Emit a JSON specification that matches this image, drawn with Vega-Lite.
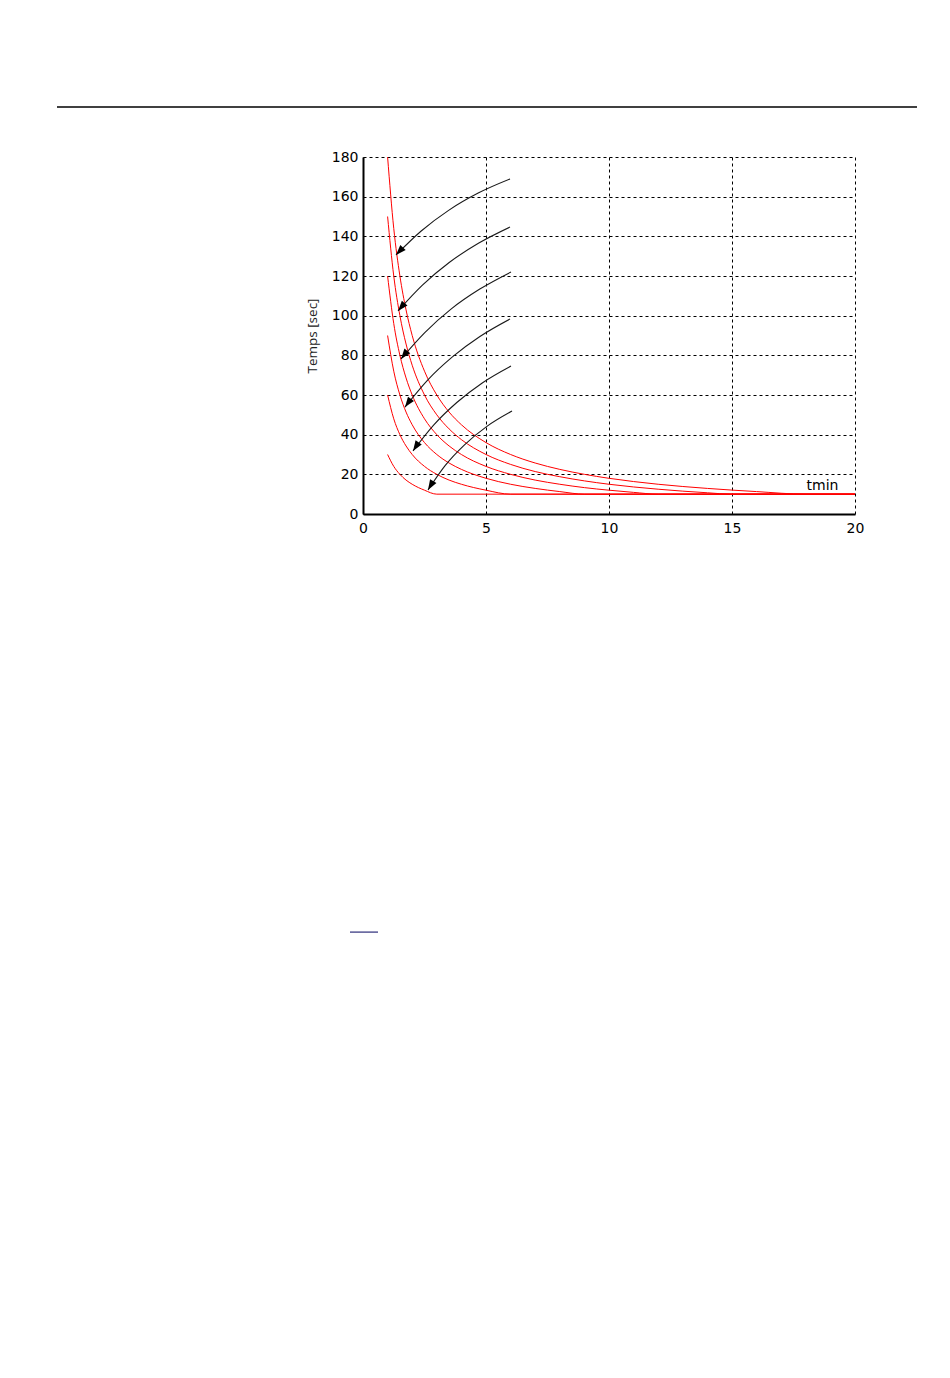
{
  "$schema": "https://vega.github.io/schema/vega-lite/v6.json",
  "autosize": "none",
  "width": 492,
  "height": 357,
  "padding": {"left": 363, "top": 157, "right": 95, "bottom": 864},
  "background": "white",
  "config": {"view": {"stroke": null}},
  "encoding": {
    "x": {
      "field": "x", "type": "quantitative",
      "scale": {"domain": [0, 20], "nice": false, "zero": false},
      "axis": {
        "title": null, "values": [0, 5, 10, 15, 20], "labelFlush": false,
        "grid": true, "gridColor": "#000000", "gridDash": [3, 3], "gridWidth": 1, "gridOpacity": 1,
        "domainColor": "#000000", "domainWidth": 2, "ticks": false,
        "labelFont": "DejaVu Sans", "labelFontSize": 14, "labelColor": "#000000", "labelPadding": 7
      }
    },
    "y": {
      "field": "y", "type": "quantitative",
      "scale": {"domain": [0, 180], "nice": false, "zero": false},
      "axis": {
        "title": "Temps [sec]", "values": [0, 20, 40, 60, 80, 100, 120, 140, 160, 180], "labelFlush": false,
        "grid": true, "gridColor": "#000000", "gridDash": [3, 3], "gridWidth": 1, "gridOpacity": 1,
        "domainColor": "#000000", "domainWidth": 2, "ticks": false,
        "labelFont": "DejaVu Sans", "labelFontSize": 14, "labelColor": "#000000", "labelPadding": 5,
        "titleFont": "Open Sans", "titleFontSize": 13.5, "titleFontWeight": "normal", "titleColor": "#222222", "titlePadding": 12
      }
    }
  },
  "layer": [
    {
      "data": {"values": [{"x": -12.44, "x2": 22.52, "y": 205.2}]},
      "mark": {"type": "rule", "color": "#000000", "strokeWidth": 1.3, "clip": false},
      "encoding": {"x2": {"field": "x2"}}
    },
    {
      "data": {"values": [{"x": -0.53, "x2": 0.61, "y": -210.8}]},
      "mark": {"type": "rule", "color": "#2b2b7a", "strokeWidth": 1.2, "clip": false},
      "encoding": {"x2": {"field": "x2"}}
    },
    {
      "data": {"values": [
        {"T": 180, "x": 1, "y": 180}, {"T": 180, "x": 1.25, "y": 144}, {"T": 180, "x": 1.5, "y": 120}, {"T": 180, "x": 1.75, "y": 102.9}, {"T": 180, "x": 2, "y": 90}, {"T": 180, "x": 2.5, "y": 72}, {"T": 180, "x": 3, "y": 60}, {"T": 180, "x": 3.5, "y": 51.4}, {"T": 180, "x": 4, "y": 45}, {"T": 180, "x": 5, "y": 36}, {"T": 180, "x": 6, "y": 30}, {"T": 180, "x": 7, "y": 25.7}, {"T": 180, "x": 8, "y": 22.5}, {"T": 180, "x": 9, "y": 20}, {"T": 180, "x": 10, "y": 18}, {"T": 180, "x": 12, "y": 15}, {"T": 180, "x": 14, "y": 12.9}, {"T": 180, "x": 16, "y": 11.3}, {"T": 180, "x": 18, "y": 10}, {"T": 180, "x": 20, "y": 10},
        {"T": 150, "x": 1, "y": 150}, {"T": 150, "x": 1.25, "y": 120}, {"T": 150, "x": 1.5, "y": 100}, {"T": 150, "x": 1.75, "y": 85.7}, {"T": 150, "x": 2, "y": 75}, {"T": 150, "x": 2.5, "y": 60}, {"T": 150, "x": 3, "y": 50}, {"T": 150, "x": 3.5, "y": 42.9}, {"T": 150, "x": 4, "y": 37.5}, {"T": 150, "x": 5, "y": 30}, {"T": 150, "x": 6, "y": 25}, {"T": 150, "x": 7, "y": 21.4}, {"T": 150, "x": 8, "y": 18.8}, {"T": 150, "x": 9, "y": 16.7}, {"T": 150, "x": 10, "y": 15}, {"T": 150, "x": 12, "y": 12.5}, {"T": 150, "x": 14, "y": 10.7}, {"T": 150, "x": 15, "y": 10}, {"T": 150, "x": 20, "y": 10},
        {"T": 120, "x": 1, "y": 120}, {"T": 120, "x": 1.25, "y": 96}, {"T": 120, "x": 1.5, "y": 80}, {"T": 120, "x": 1.75, "y": 68.6}, {"T": 120, "x": 2, "y": 60}, {"T": 120, "x": 2.5, "y": 48}, {"T": 120, "x": 3, "y": 40}, {"T": 120, "x": 3.5, "y": 34.3}, {"T": 120, "x": 4, "y": 30}, {"T": 120, "x": 5, "y": 24}, {"T": 120, "x": 6, "y": 20}, {"T": 120, "x": 7, "y": 17.1}, {"T": 120, "x": 8, "y": 15}, {"T": 120, "x": 9, "y": 13.3}, {"T": 120, "x": 10, "y": 12}, {"T": 120, "x": 11, "y": 10.9}, {"T": 120, "x": 12, "y": 10}, {"T": 120, "x": 20, "y": 10},
        {"T": 90, "x": 1, "y": 90}, {"T": 90, "x": 1.25, "y": 72}, {"T": 90, "x": 1.5, "y": 60}, {"T": 90, "x": 1.75, "y": 51.4}, {"T": 90, "x": 2, "y": 45}, {"T": 90, "x": 2.5, "y": 36}, {"T": 90, "x": 3, "y": 30}, {"T": 90, "x": 3.5, "y": 25.7}, {"T": 90, "x": 4, "y": 22.5}, {"T": 90, "x": 5, "y": 18}, {"T": 90, "x": 6, "y": 15}, {"T": 90, "x": 7, "y": 12.9}, {"T": 90, "x": 8, "y": 11.3}, {"T": 90, "x": 9, "y": 10}, {"T": 90, "x": 20, "y": 10},
        {"T": 60, "x": 1, "y": 60}, {"T": 60, "x": 1.25, "y": 48}, {"T": 60, "x": 1.5, "y": 40}, {"T": 60, "x": 1.75, "y": 34.3}, {"T": 60, "x": 2, "y": 30}, {"T": 60, "x": 2.5, "y": 24}, {"T": 60, "x": 3, "y": 20}, {"T": 60, "x": 3.5, "y": 17.1}, {"T": 60, "x": 4, "y": 15}, {"T": 60, "x": 5, "y": 12}, {"T": 60, "x": 6, "y": 10}, {"T": 60, "x": 20, "y": 10},
        {"T": 30, "x": 1, "y": 30}, {"T": 30, "x": 1.25, "y": 24}, {"T": 30, "x": 1.5, "y": 20}, {"T": 30, "x": 1.75, "y": 17.1}, {"T": 30, "x": 2, "y": 15}, {"T": 30, "x": 2.5, "y": 12}, {"T": 30, "x": 3, "y": 10}, {"T": 30, "x": 20, "y": 10}
      ]},
      "mark": {"type": "line", "color": "#ff0000", "strokeWidth": 1, "interpolate": "monotone"},
      "encoding": {"detail": {"field": "T"}}
    },
    {
      "data": {"name": "arrows", "values": [
        {"arrow": 1, "seq": 0, "x": 1.341, "y": 130.6}, {"arrow": 1, "seq": 1, "x": 2.366, "y": 142.7}, {"arrow": 1, "seq": 2, "x": 3.48, "y": 153.1}, {"arrow": 1, "seq": 3, "x": 4.683, "y": 161.8}, {"arrow": 1, "seq": 4, "x": 5.976, "y": 168.9},
        {"arrow": 2, "seq": 0, "x": 1.423, "y": 102.4}, {"arrow": 2, "seq": 1, "x": 2.415, "y": 115.4}, {"arrow": 2, "seq": 2, "x": 3.504, "y": 126.8}, {"arrow": 2, "seq": 3, "x": 4.691, "y": 136.5}, {"arrow": 2, "seq": 4, "x": 5.976, "y": 144.7},
        {"arrow": 3, "seq": 0, "x": 1.545, "y": 78.2}, {"arrow": 3, "seq": 1, "x": 2.512, "y": 91.5}, {"arrow": 3, "seq": 2, "x": 3.577, "y": 103.3}, {"arrow": 3, "seq": 3, "x": 4.748, "y": 113.4}, {"arrow": 3, "seq": 4, "x": 6.016, "y": 122.0},
        {"arrow": 4, "seq": 0, "x": 1.707, "y": 53.9}, {"arrow": 4, "seq": 1, "x": 2.618, "y": 67.4}, {"arrow": 4, "seq": 2, "x": 3.634, "y": 79.2}, {"arrow": 4, "seq": 3, "x": 4.752, "y": 89.5}, {"arrow": 4, "seq": 4, "x": 5.976, "y": 98.3},
        {"arrow": 5, "seq": 0, "x": 2.033, "y": 31.8}, {"arrow": 5, "seq": 1, "x": 2.87, "y": 44.8}, {"arrow": 5, "seq": 2, "x": 3.813, "y": 56.2}, {"arrow": 5, "seq": 3, "x": 4.862, "y": 66.2}, {"arrow": 5, "seq": 4, "x": 6.016, "y": 74.6},
        {"arrow": 6, "seq": 0, "x": 2.642, "y": 12.1}, {"arrow": 6, "seq": 1, "x": 3.329, "y": 24.3}, {"arrow": 6, "seq": 2, "x": 4.126, "y": 34.9}, {"arrow": 6, "seq": 3, "x": 5.037, "y": 44.2}, {"arrow": 6, "seq": 4, "x": 6.057, "y": 51.9}
      ]},
      "mark": {"type": "line", "color": "#1a1a1a", "strokeWidth": 1.1, "interpolate": "monotone"},
      "encoding": {"detail": {"field": "arrow"}}
    },
    {
      "data": {"name": "arrows"},
      "transform": [{"filter": "datum.seq == 0"}],
      "mark": {"type": "point", "shape": "M0,0L-0.36,1L0.36,1Z", "filled": true, "color": "#000000", "opacity": 1, "size": 420},
      "encoding": {
        "angle": {"field": "arrow", "type": "quantitative", "scale": {"domain": [1, 6], "range": [223, 211]}, "legend": null}
      }
    },
    {
      "data": {"values": [{"x": 18.68, "y": 14.1, "label": "tmin"}]},
      "mark": {"type": "text", "font": "DejaVu Sans", "fontSize": 14, "color": "#000000", "align": "center", "baseline": "middle"},
      "encoding": {"text": {"field": "label"}}
    }
  ]
}
